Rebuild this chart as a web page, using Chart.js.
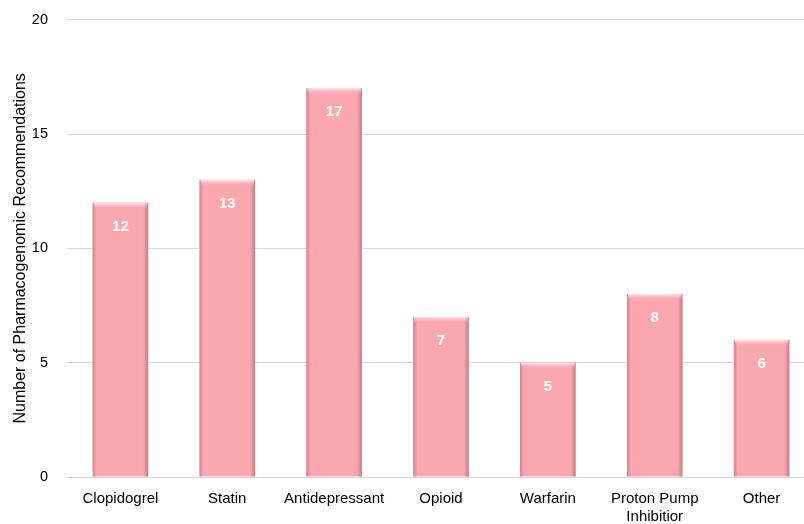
<!DOCTYPE html>
<html>
<head>
<meta charset="utf-8">
<script src="https://cdn.jsdelivr.net/npm/chart.js@4/dist/chart.umd.min.js"></script>
<style>
  html, body { margin: 0; padding: 0; background: #fff; overflow: hidden; }
  #wrap { width: 815px; height: 532px; position: relative; margin-top: -8px; }
</style>
</head>
<body>
<div id="wrap"><canvas id="c"></canvas></div>
<script>
// Drug classes and number of pharmacogenomic recommendations per class
const categories = ['Clopidogrel', 'Statin', 'Antidepressant', 'Opioid', 'Warfarin', ['Proton Pump', 'Inhibitior'], 'Other'];
const recommendations = [12, 13, 17, 7, 5, 8, 6];
const yTicks = [0, 5, 10, 15, 20];

const FONT = '"Liberation Sans", Arial, sans-serif';

// Shaded edges, a light cap on top of each bar and the value label inside it
const barDecor = {
  id: 'barDecor',
  afterDatasetsDraw(chart) {
    const ctx = chart.ctx;
    const meta = chart.getDatasetMeta(0);
    ctx.save();
    meta.data.forEach((bar, i) => {
      const w = bar.width, left = bar.x - w / 2, right = bar.x + w / 2;
      const top = bar.y, bottom = bar.base, h = bottom - top;

      // darker vertical edges
      const gl = ctx.createLinearGradient(left, 0, left + 4, 0);
      gl.addColorStop(0, 'rgba(170,100,110,0.55)');
      gl.addColorStop(1, 'rgba(170,100,110,0)');
      ctx.fillStyle = gl;
      ctx.fillRect(left, top, 4, h);
      const gr = ctx.createLinearGradient(right - 5, 0, right, 0);
      gr.addColorStop(0, 'rgba(160,95,105,0)');
      gr.addColorStop(1, 'rgba(160,95,105,0.6)');
      ctx.fillStyle = gr;
      ctx.fillRect(right - 5, top, 5, h);

      // light cap
      const cap = ctx.createLinearGradient(0, top, 0, top + 6);
      cap.addColorStop(0, 'rgba(255,236,238,0.95)');
      cap.addColorStop(1, 'rgba(251,168,176,0)');
      ctx.fillStyle = cap;
      ctx.fillRect(left + 1, top, w - 2, 6);

      ctx.fillStyle = '#ffffff';
      ctx.font = 'bold 15px ' + FONT;
      ctx.textAlign = 'center';
      ctx.textBaseline = 'middle';
      ctx.fillText(String(recommendations[i]), bar.x, top + 24);
    });
    ctx.restore();
  }
};

new Chart(document.getElementById('c'), {
  type: 'bar',
  data: {
    labels: categories,
    datasets: [{
      data: recommendations,
      backgroundColor: '#fba7b0',
      borderWidth: 0,
      barPercentage: 0.52,
      categoryPercentage: 1.0
    }]
  },
  options: {
    responsive: true,
    maintainAspectRatio: false,
    animation: false,
    devicePixelRatio: 1,
    layout: { padding: { top: 0, left: 11, right: 0, bottom: 0 } },
    plugins: { legend: { display: false }, tooltip: { enabled: false } },
    scales: {
      x: {
        afterFit(scale) { scale.height = 47; },
        grid: { display: false },
        border: { display: false },
        ticks: { color: '#000', font: { family: FONT, size: 15, lineHeight: 1.2 }, padding: 5, maxRotation: 0, autoSkip: false }
      },
      y: {
        min: 0, max: 20,
        afterBuildTicks(scale) { scale.ticks = yTicks.map(v => ({ value: v })); },
        afterFit(scale) { scale.width = 56; },
        grid: { color: '#d9d9d9', lineWidth: 1, drawTicks: false },
        border: { display: false },
        ticks: { color: '#000', font: { family: FONT, size: 14.5 }, padding: 19 },
        title: {
          display: true,
          text: 'Number of Pharmacogenomic Recommendations',
          color: '#000',
          font: { family: FONT, size: 16 },
          padding: { top: 0, bottom: 0 }
        }
      }
    }
  },
  plugins: [barDecor]
});
</script>
</body>
</html>
